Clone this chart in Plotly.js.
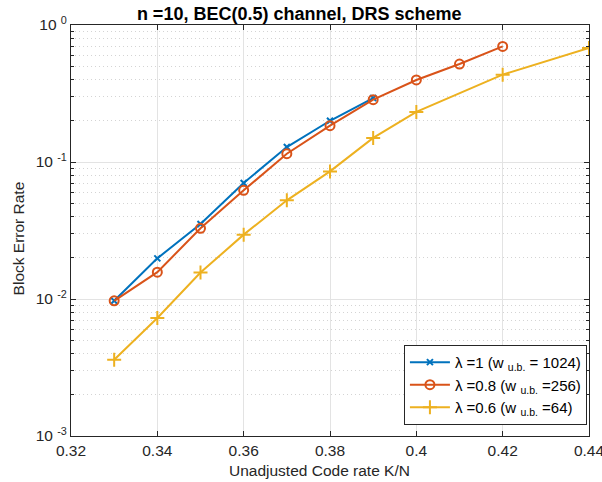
<!DOCTYPE html>
<html><head><meta charset="utf-8">
<script src="https://cdn.plot.ly/plotly-3.0.1.min.js"></script>
<style>body{margin:0;background:#fff}#c{width:602px;height:482px}</style>
</head><body><div id="c"></div>
<script>
const rate1 = [0.33,0.34,0.35,0.36,0.37,0.38,0.39];
const bler1 = [0.0097,0.0198,0.0353,0.0703,0.1286,0.200,0.293];
const rate08 = [0.33,0.34,0.35,0.36,0.37,0.38,0.39,0.40,0.41,0.42];
const bler08 = [0.0097,0.0157,0.0328,0.0621,0.115,0.184,0.285,0.397,0.519,0.698];
const rate06 = [0.33,0.34,0.35,0.36,0.37,0.38,0.39,0.40,0.42,0.44];
const bler06 = [0.0036,0.00727,0.0156,0.0295,0.0525,0.0854,0.150,0.232,0.434,0.679];
const names = ['λ =1 (w <sub>u.b.</sub> = 1024)','λ =0.8 (w <sub>u.b.</sub> =256)','λ =0.6 (w <sub>u.b.</sub> =64)'];
const xTicks = [0.32,0.34,0.36,0.38,0.40,0.42,0.44];
const xTickText = ['0.32','0.34','0.36','0.38','0.4','0.42','0.44'];
const yTicks = [0.001,0.01,0.1,1];
const yTickText = ['10 <sup>-3</sup>','10 <sup>-2</sup>','10 <sup>-1</sup>','10 <sup>0</sup>'];
const titleText = 'n =10, BEC(0.5) channel, DRS scheme';
const xLabel = 'Unadjusted Code rate K/N';
const yLabel = 'Block Error Rate';

const font = 'Liberation Sans, Arial, Helvetica, sans-serif';
const traces = [
  {x:rate1,y:bler1,name:names[0],mode:'lines+markers',line:{color:'#0072BD',width:2},
   marker:{symbol:'x-thin-open',size:6,color:'#0072BD',line:{color:'#0072BD',width:2}}},
  {x:rate08,y:bler08,name:names[1],mode:'lines+markers',line:{color:'#D95319',width:2},
   marker:{symbol:'circle-open',size:9,color:'#D95319',line:{color:'#D95319',width:2}}},
  {x:rate06,y:bler06,name:names[2],mode:'lines+markers',line:{color:'#EDB120',width:2},
   marker:{symbol:'cross-thin-open',size:10,color:'#EDB120',line:{color:'#EDB120',width:2}}}
];
const layout = {
  width:602,height:482,
  margin:{l:70.5,r:12.5,t:25,b:46},
  paper_bgcolor:'#fff',plot_bgcolor:'#fff',
  font:{family:font,size:15.5,color:'#262626'},
  showlegend:true,
  title:{text:'<b>'+titleText+'</b>',x:0.497,xanchor:'center',y:0.971,yanchor:'middle',font:{size:18,color:'#000'}},
  xaxis:{range:[0.32,0.4400001],tickmode:'array',tickvals:xTicks,ticktext:xTickText,ticks:'inside',ticklen:5,tickcolor:'#262626',
    ticklabeloverflow:'allow',
    showline:true,linecolor:'#262626',linewidth:1,mirror:'allticks',
    showgrid:true,gridcolor:'#e3e3e3',gridwidth:1,zeroline:false,
    tickfont:{size:15.5,color:'#262626'}},
  yaxis:{type:'log',range:[-3,0],tickmode:'array',tickvals:yTicks,ticktext:yTickText,
    ticks:'inside',ticklen:5,tickcolor:'#262626',
    showline:true,linecolor:'#262626',linewidth:1,mirror:'allticks',
    showgrid:true,gridcolor:'#e3e3e3',gridwidth:1,zeroline:false,
    tickfont:{size:15.5,color:'#262626'},
    minor:{dtick:'D1',ticks:'inside',ticklen:3,tickcolor:'#262626',showgrid:true,gridcolor:'#d4d4d4',griddash:'1px,3px',gridwidth:1}},
  annotations:[
    {text:xLabel,xref:'paper',yref:'paper',x:0.479,y:-0.085,xanchor:'center',yanchor:'middle',showarrow:false,font:{size:15.5,color:'#262626'}},
    {text:yLabel,xref:'paper',yref:'paper',x:-0.101,y:0.48,xanchor:'center',yanchor:'middle',textangle:-90,showarrow:false,font:{size:15.5,color:'#262626'}}
  ],
  legend:{x:0.996,xanchor:'right',y:0.027,yanchor:'bottom',bgcolor:'#fff',bordercolor:'#262626',borderwidth:1,
    font:{size:15,color:'#000'},tracegroupgap:0,itemwidth:40}
};
Plotly.newPlot('c',traces,layout,{displayModeBar:false,staticPlot:true});
</script></body></html>
